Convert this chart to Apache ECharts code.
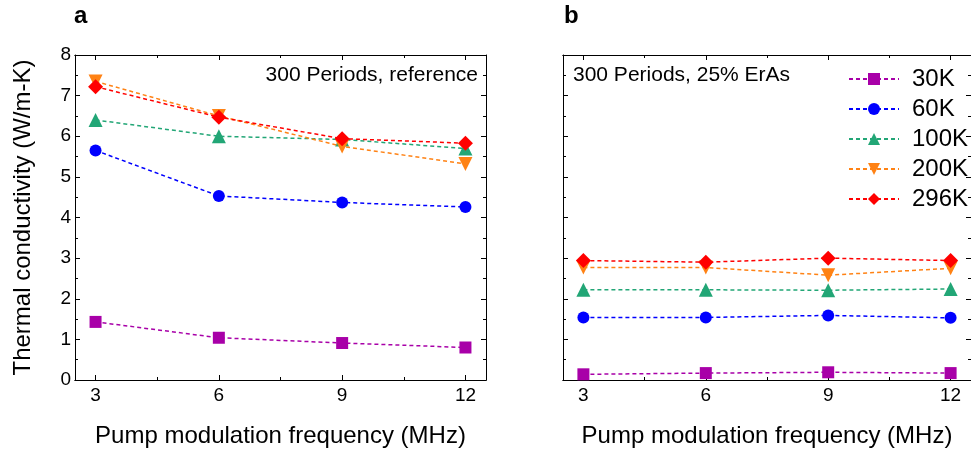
<!DOCTYPE html>
<html>
<head>
<meta charset="utf-8">
<script src="https://cdn.jsdelivr.net/npm/echarts@6/dist/echarts.min.js"></script>
<style>
html,body{margin:0;padding:0;background:#fff;}
#chart{width:971px;height:453px;}
</style>
</head>
<body>
<div id="chart"></div>
<script>
// ---- data ----
const freqs = [3, 6, 9, 12];
const xMajorTicks = [3, 6, 9, 12];
const xMinorTicks = [4.5, 7.5, 10.5];
const seriesNames = ['30K', '60K', '100K', '200K', '296K'];

// panel a: 300 Periods, reference
const refK30  = [1.43, 1.04, 0.91, 0.80];
const refK60  = [5.65, 4.53, 4.37, 4.26];
const refK100 = [6.40, 6.00, 5.92, 5.70];
const refK200 = [7.35, 6.50, 5.75, 5.32];
const refK296 = [7.22, 6.47, 5.94, 5.83];

// panel b: 300 Periods, 25% ErAs
const erK30  = [0.14, 0.17, 0.19, 0.17];
const erK60  = [1.54, 1.54, 1.59, 1.53];
const erK100 = [2.22, 2.22, 2.21, 2.24];
const erK200 = [2.77, 2.77, 2.58, 2.75];
const erK296 = [2.94, 2.90, 3.00, 2.94];

// ---- styles ----
const colors = ['#A800A8', '#0000FF', '#22A676', '#FF8214', '#FF0000'];
const symbols = ['rect', 'circle', 'triangle', 'triangle', 'diamond'];
const symbolSizes = [12, 12, 14, 14, 15];
const symbolRotates = [0, 0, 0, 180, 0];
const FONT = '"Liberation Sans", Arial, Helvetica, sans-serif';

const chart = echarts.init(document.getElementById('chart'));

const grids = [
  {left: 75, top: 55, width: 411, height: 326},
  {left: 563, top: 55, width: 410, height: 326}
];

const axisLine = {show: true, onZero: false, lineStyle: {color: '#000', width: 1}};

const xAxes = [];
const yAxes = [];
[0, 1].forEach(g => {
  const base = {type: 'value', gridIndex: g, min: 2.5, max: 12.5, splitLine: {show: false}, axisLine: axisLine};
  // bottom major with labels
  xAxes.push(Object.assign({}, base, {
    position: 'bottom',
    axisTick: {show: true, inside: true, length: 5, customValues: xMajorTicks, lineStyle: {color: '#000'}},
    axisLabel: {show: true, customValues: xMajorTicks, margin: 6, color: '#000', fontSize: 19, fontFamily: FONT},
    name: 'Pump modulation frequency (MHz)', nameLocation: 'middle', nameGap: 44,
    nameTextStyle: {fontSize: 24, color: '#000', fontFamily: FONT}
  }));
  // bottom minor
  xAxes.push(Object.assign({}, base, {
    position: 'bottom',
    axisTick: {show: true, inside: true, length: 3, customValues: xMinorTicks, lineStyle: {color: '#000'}},
    axisLabel: {show: false}
  }));
  // top major
  xAxes.push(Object.assign({}, base, {
    position: 'top',
    axisTick: {show: true, inside: true, length: 5, customValues: xMajorTicks, lineStyle: {color: '#000'}},
    axisLabel: {show: false}
  }));
  // top minor
  xAxes.push(Object.assign({}, base, {
    position: 'top',
    axisTick: {show: true, inside: true, length: 3, customValues: xMinorTicks, lineStyle: {color: '#000'}},
    axisLabel: {show: false}
  }));

  const ybase = {type: 'value', gridIndex: g, min: 0, max: 8, interval: 1, splitLine: {show: false}, axisLine: axisLine,
    axisTick: {show: true, inside: true, length: 5, lineStyle: {color: '#000'}},
    minorTick: {show: true, splitNumber: 2, length: 3, lineStyle: {color: '#000'}},
    minorSplitLine: {show: false}};
  yAxes.push(Object.assign({}, ybase, {
    position: 'left',
    axisLabel: {show: g === 0, margin: 4, color: '#000', fontSize: 19, fontFamily: FONT},
    name: g === 0 ? 'Thermal conductivity (W/m-K)' : '',
    nameLocation: 'middle', nameGap: 40,
    nameTextStyle: {fontSize: 24, color: '#000', fontFamily: FONT}
  }));
  yAxes.push(Object.assign({}, ybase, {
    position: 'right',
    axisLabel: {show: false}
  }));
});

const panelData = [
  [refK30, refK60, refK100, refK200, refK296],
  [erK30, erK60, erK100, erK200, erK296]
];

const series = [];
panelData.forEach((sets, g) => {
  sets.forEach((vals, i) => {
    series.push({
      type: 'line',
      name: seriesNames[i],
      xAxisIndex: g * 4,
      yAxisIndex: g * 2,
      data: freqs.map((f, k) => [f, vals[k]]),
      symbol: symbols[i],
      symbolSize: symbolSizes[i],
      symbolRotate: symbolRotates[i],
      showAllSymbol: true,
      color: colors[i],
      itemStyle: {color: colors[i], borderWidth: 0},
      lineStyle: {color: colors[i], width: 1.5, type: [4, 3]},
      emphasis: {disabled: true},
      animation: false,
      z: 2 + i
    });
  });
});

chart.setOption({
  backgroundColor: '#fff',
  animation: false,
  textStyle: {fontFamily: FONT},
  title: [
    {text: 'a', left: 74, top: 4, padding: 0, textStyle: {fontSize: 24, fontWeight: 'bold', color: '#000', fontFamily: FONT}},
    {text: 'b', left: 564, top: 4, padding: 0, textStyle: {fontSize: 24, fontWeight: 'bold', color: '#000', fontFamily: FONT}},
    {text: '300 Periods, reference', right: 493, top: 65, padding: 0, textStyle: {fontSize: 21, fontWeight: 'normal', color: '#000', fontFamily: FONT}},
    {text: '300 Periods, 25% ErAs', left: 573, top: 65, padding: 0, textStyle: {fontSize: 21, fontWeight: 'normal', color: '#000', fontFamily: FONT}}
  ],
  legend: {
    orient: 'vertical',
    left: 848,
    top: 67,
    padding: 0,
    itemWidth: 50,
    itemHeight: 15,
    itemGap: 6,
    selectedMode: false,
    data: seriesNames,
    textStyle: {fontSize: 24, lineHeight: 24, color: '#000', fontFamily: FONT, padding: [0, 0, 0, 8]}
  },
  grid: grids,
  xAxis: xAxes,
  yAxis: yAxes,
  series: series
});
</script>
</body>
</html>
